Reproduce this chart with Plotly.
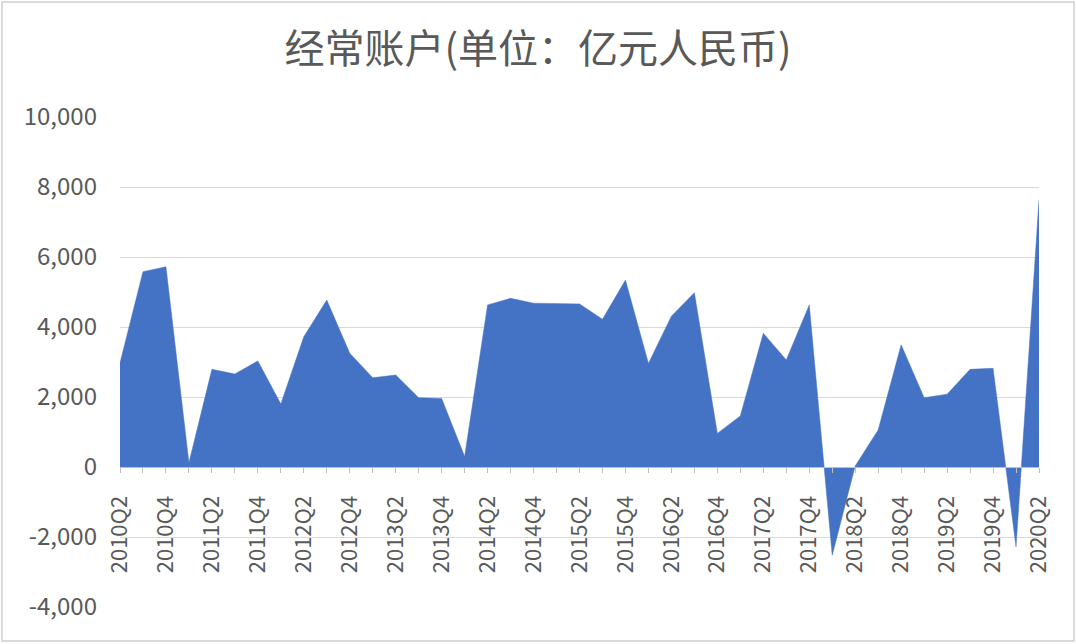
import plotly.graph_objects as go

# quarterly current account, 100m RMB
quarters = [f"{y}Q{q}" for y in range(2010, 2021) for q in range(1, 5)][1:42]
values = [2970, 5580, 5720, 120, 2790, 2660, 3030, 1800, 3720, 4770,
          3250, 2550, 2630, 1980, 1960, 300, 4630, 4820, 4680, 4680,
          4660, 4220, 5340, 2960, 4310, 4980, 960, 1460, 3820, 3060,
          4630, -2520, 30, 1060, 3490, 1980, 2080, 2790, 2820, -2280, 7630]
ytick_vals = [-4000, -2000, 0, 2000, 4000, 6000, 8000, 10000]

idx = list(range(len(quarters)))
W, H = 1076, 644
ml, mr, mt, mb = 120, 37, 117, 37
font = "Noto Sans CJK SC, Noto Sans, sans-serif"
grey = "#595959"

fig = go.Figure()
fig.add_trace(go.Scatter(
    x=idx, y=values, mode="lines", fill="tozeroy",
    line=dict(color="#4472C4", width=0.5), fillcolor="#4472C4",
    hoverinfo="skip"
))

ymin, ymax = ytick_vals[0], ytick_vals[-1]
fig.update_layout(
    width=W, height=H,
    margin=dict(l=ml, r=mr, t=mt, b=mb),
    paper_bgcolor="white", plot_bgcolor="white",
    showlegend=False,
    font=dict(family=font, color=grey),
    title=dict(text="经常账户(单位：亿元人民币)", x=0.5, xanchor="center",
               y=1 - 49 / H, yanchor="middle",
               font=dict(size=40, color=grey, family=font)),
)
fig.update_xaxes(
    range=[0, len(quarters) - 1],
    anchor="free", position=(0 - ymin) / (ymax - ymin),
    tickmode="array", tickvals=idx[::2], ticktext=quarters[::2],
    tickangle=-90, tickfont=dict(size=22, color=grey),
    ticks="outside", ticklen=5, tickcolor="#bfbfbf",
    minor=dict(dtick=1, ticks="outside", ticklen=5, tickcolor="#bfbfbf", showgrid=False),
    showline=True, linecolor="#bfbfbf", linewidth=1.2,
    showgrid=False, zeroline=False, ticklabelstandoff=14,
)
fig.update_yaxes(
    range=[ymin, ymax],
    tickmode="array", tickvals=ytick_vals, ticktext=[f"{v:,}" for v in ytick_vals],
    tickfont=dict(size=24, color=grey),
    showgrid=True, gridcolor="#d9d9d9", gridwidth=1.2,
    zeroline=False, showline=False, ticks="", ticklabelstandoff=22,
)

# thin frame around the whole chart
pw, ph = W - ml - mr, H - mt - mb
fig.add_shape(type="rect", xref="paper", yref="paper",
              x0=-(ml - 2) / pw, x1=1 + (mr - 2) / pw,
              y0=-(mb - 3) / ph, y1=1 + (mt - 2) / ph,
              line=dict(color="#d0d0d0", width=1.5), layer="below")

fig.write_html("out.html", config={"displayModeBar": False},
               post_script="document.body.style.margin='0';")
